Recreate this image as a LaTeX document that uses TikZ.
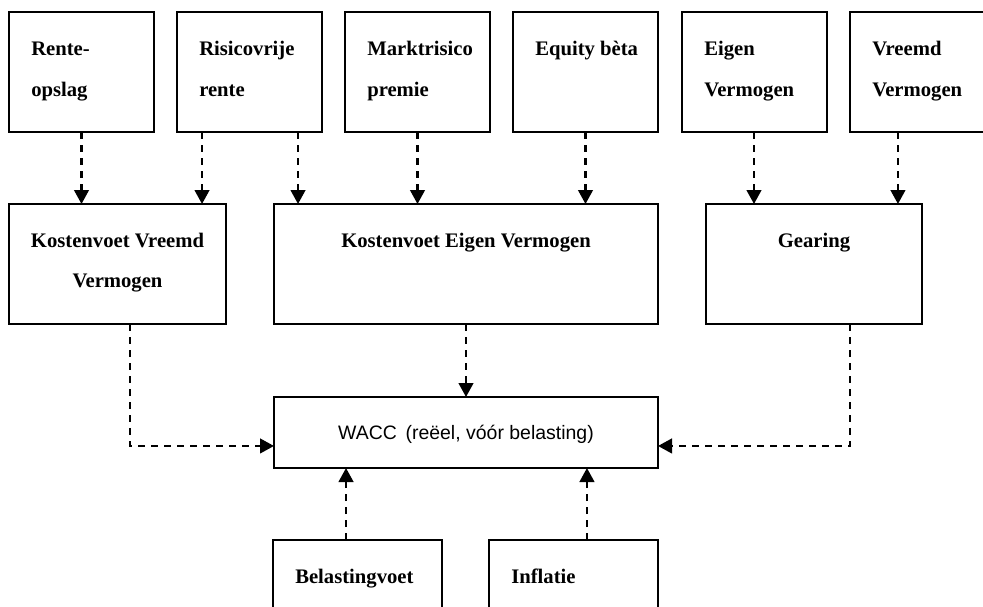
\documentclass[tikz,border=0pt]{standalone}
\usepackage{fontspec}
\setmainfont{Liberation Serif}
\setsansfont{Liberation Sans}
\usetikzlibrary{arrows.meta}

\tikzset{
  blok/.style={draw, line width=1.5pt, inner sep=0pt, outer sep=0pt, minimum height=90pt},
  kop/.style={font=\fontsize{15.5}{31.1}\selectfont\bfseries, align=left, anchor=base west, inner sep=0pt},
  midkop/.style={font=\fontsize{15.5}{30}\selectfont\bfseries, align=center, anchor=base, inner sep=0pt},
  pijl/.style={line width=1.7pt, dash pattern=on 5.25pt off 4.5pt, -{Triangle[width=11pt,length=10.5pt]}},
}

\begin{document}
\begin{tikzpicture}[x=0.75pt,y=0.75pt,yscale=-1,xscale=1]
\useasboundingbox (0,0) rectangle (983,607);

%Shape: Rectangle top row
\node[blok, minimum width=108.75pt] (rente) at (81.5,72) {};
\node[blok, minimum width=108.75pt] (risico) at (249.5,72) {};
\node[blok, minimum width=108.75pt] (markt) at (417.5,72) {};
\node[blok, minimum width=108.75pt] (equity) at (585.5,72) {};
\node[blok, minimum width=108.75pt] (eigen) at (754,72) {};
\node[blok, minimum width=108.75pt] (vreemd) at (922.5,72) {};
%Text top row (base = last line)
\node[kop] (renteT) at (31,96.5) {Rente-\\opslag};
\node[kop] (risicoT) at (199,96.5) {Risicovrije\\rente};
\node[kop] (marktT) at (367,96.5) {Marktrisico\\premie};
\node[kop] (equityT) at (535,55) {Equity bèta};
\node[kop] (eigenT) at (704,96.5) {Eigen\\Vermogen};
\node[kop] (vreemdT) at (872,96.5) {Vreemd\\Vermogen};

%Shape: Rectangle middle row
\node[blok, minimum width=162.75pt] (kvv) at (117.5,264) {};
\node[blok, minimum width=288pt] (kev) at (466,264) {};
\node[blok, minimum width=162pt] (gearing) at (814,264) {};
%Text middle row
\node[midkop] (kvvT) at (117.5,287) {Kostenvoet Vreemd\\Vermogen};
\node[midkop] (kevT) at (466,247) {Kostenvoet Eigen Vermogen};
\node[midkop] (gearingT) at (814,247) {Gearing};

%Shape: Rectangle WACC
\node[blok, minimum width=288pt, minimum height=53.25pt] (wacc) at (466,432.5) {};
\node[anchor=base, inner sep=0pt, font=\fontsize{14.6}{18}\selectfont\sffamily] (waccT) at (466,439) {WACC \,(reëel, vóór belasting)};

%Shape: Rectangle bottom row
\node[blok, minimum width=126.75pt] (belasting) at (357.5,600) {};
\node[blok, minimum width=126.75pt] (inflatie) at (573.5,600) {};
\node[kop] (belastingT) at (295,583) {Belastingvoet};
\node[kop] (inflatieT) at (511,583) {Inflatie};

%Straight Lines top row to middle row
\draw[pijl] (rente.south) -- (rente.south |- kvv.north);
\draw[pijl] ([xshift=-35.6pt]risico.south) -- ([xshift=-35.6pt]risico.south |- kvv.north);
\draw[pijl] ([xshift=36.4pt]risico.south) -- ([xshift=36.4pt]risico.south |- kev.north);
\draw[pijl] (markt.south) -- (markt.south |- kev.north);
\draw[pijl] (equity.south) -- (equity.south |- kev.north);
\draw[pijl] (eigen.south) -- (eigen.south |- gearing.north);
\draw[pijl] ([xshift=-18.4pt]vreemd.south) -- ([xshift=-18.4pt]vreemd.south |- gearing.north);

%Straight Lines middle row to WACC
\draw[pijl] ([xshift=9.4pt]kvv.south) |- ([yshift=10.1pt]wacc.west);
\draw[pijl] (kev.south) -- (wacc.north);
\draw[pijl] ([xshift=27pt]gearing.south) |- ([yshift=10.1pt]wacc.east);

%Straight Lines bottom row to WACC
\draw[pijl] ([xshift=-8.6pt]belasting.north) -- ([xshift=-8.6pt]belasting.north |- wacc.south);
\draw[pijl] ([xshift=10.1pt]inflatie.north) -- ([xshift=10.1pt]inflatie.north |- wacc.south);

\end{tikzpicture}
\end{document}
